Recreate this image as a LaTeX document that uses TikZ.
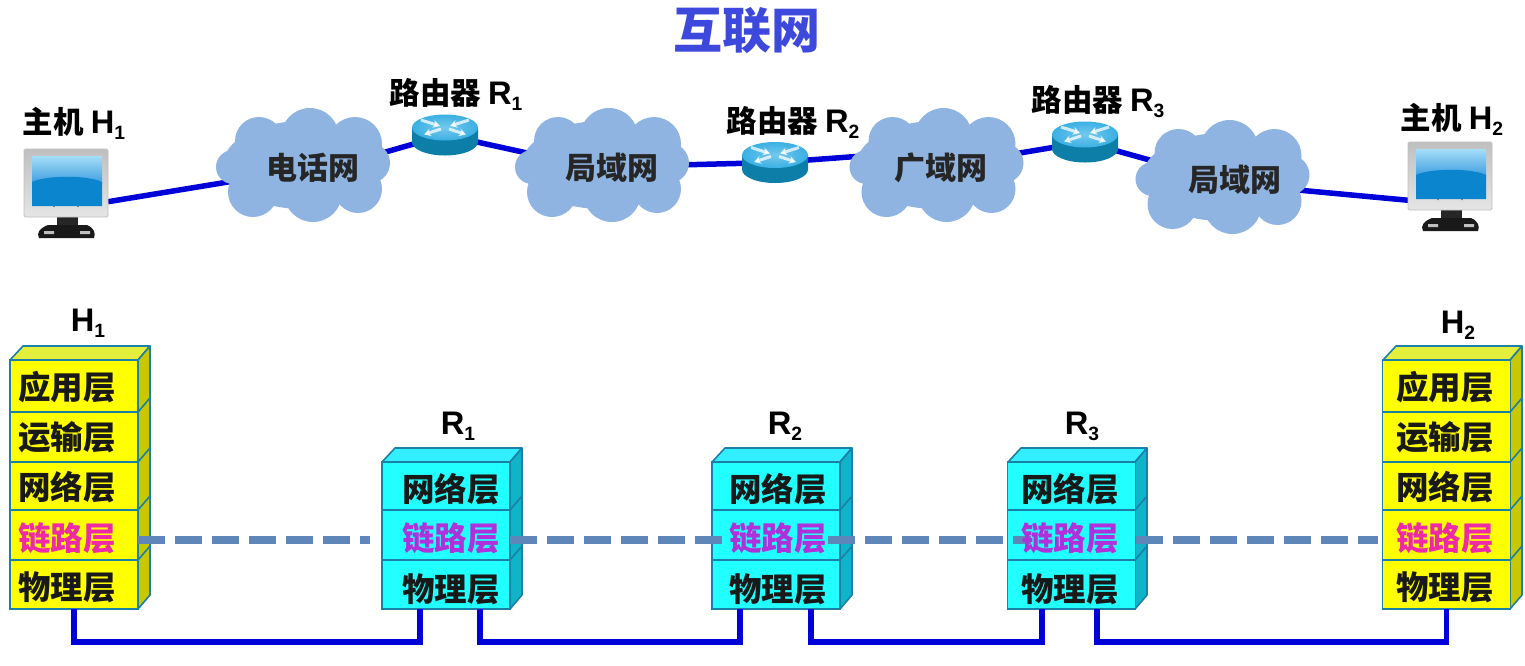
\documentclass[tikz,border=0pt]{standalone}
\usepackage{fontspec}
\setmainfont{Noto Sans CJK SC}
\newfontfamily\latinface{Liberation Sans}[Scale=1.07]
\usetikzlibrary{shapes.geometric,backgrounds,arrows.meta}
\definecolor{wireblue}{HTML}{0000D8}
\definecolor{dashblue}{HTML}{5F86B8}
\definecolor{cloudblue}{HTML}{8FB4E2}
\definecolor{titleblue}{HTML}{3D48DC}
\definecolor{edgeblue}{HTML}{1C7FA6}
\definecolor{yface}{HTML}{FFFF00}
\definecolor{ytop}{HTML}{E4EE3C}
\definecolor{yside}{HTML}{C8C800}
\definecolor{cface}{HTML}{22FFFF}
\definecolor{ctop}{HTML}{33EEFF}
\definecolor{cside}{HTML}{0FB4C8}
\definecolor{linkpink}{HTML}{EE2AA8}
\definecolor{linkviolet}{HTML}{B030DC}
\definecolor{routertopc}{HTML}{3AB0E4}
\definecolor{routerbody}{HTML}{0C7EA8}
\definecolor{screenhigh}{HTML}{A5DDF8}
\definecolor{screenmid}{HTML}{3F9FE0}
\definecolor{screenlow}{HTML}{0A85CE}
\newcommand\idx[1]{\raisebox{-6pt}{\latinface\fontsize{18}{18}\selectfont #1}}
\newcommand\lat[1]{{\latinface #1}}
\tikzset{
  title/.style={font=\fontsize{49}{52}\selectfont\bfseries, text=titleblue, inner sep=0pt},
  caption/.style={font=\fontsize{30.5}{34}\selectfont\bfseries, text=black, inner sep=0pt},
  cloudtext/.style={font=\fontsize{31}{34}\selectfont\bfseries, text=black!85, inner sep=0pt},
  layertext/.style={font=\fontsize{32.5}{35}\selectfont\bfseries, text=black!90, inner sep=0pt},
  layerrow/.style={rectangle, draw=edgeblue, line width=1.8pt, inner sep=0pt, outer sep=0pt, minimum height=#1},
  hostrow/.style={layerrow=#1, fill=yface, minimum width=128pt},
  routerrow/.style={layerrow=#1, fill=cface, minimum width=128pt},
  wire/.style={draw=wireblue, line width=5.5pt},
  link/.style={draw=wireblue, line width=5.5pt},
  peerdash/.style={draw=dashblue, line width=8pt, dash pattern=on 27pt off 10pt},
  cloudanchor/.style={ellipse, minimum width=150pt, minimum height=90pt, inner sep=0pt, outer sep=0pt},
  routerbox/.style={rectangle, minimum width=66pt, minimum height=41pt, inner sep=0pt, outer sep=0pt},
  screenbox/.style={rectangle, minimum width=84pt, minimum height=68pt, inner sep=0pt, outer sep=0pt, rounded corners=1.5pt, top color=black!25, bottom color=black!10, draw=black!25, line width=.8pt},
}
% cloud: #1 name, #2 centre x, #3 centre y, #4 label, #5 label offset
\newcommand\netcloud[5]{
  \begin{scope}[shift={(#2,#3)}]
    \fill[cloudblue] (7,-28) circle[radius=29] (-44,-24) circle[radius=24] (52,-21) circle[radius=27]
      (-70,2) circle[radius=17] (67,-2) circle[radius=20] (-50,27) circle[radius=25]
      (10,28) circle[radius=29] (55,24) circle[radius=24] (0,0) ellipse[x radius=80,y radius=44];
    \node[cloudanchor] (#1) at (0,0) {};
    \node[cloudtext] (#1label) at (#5,3) {#4};
  \end{scope}
}
% router: #1 name, #2 centre x, #3 centre y of the whole cylinder
\newcommand\netrouter[3]{
  \begin{scope}[shift={(#2,#3)}]
    \node[routerbox] (#1) at (0,0) {};
    \fill[routerbody] (-33,-7.5) -- (-33,7) arc[x radius=33,y radius=13.5,start angle=180,end angle=0] -- (33,-7.5) -- cycle;
    \shade[inner color=routertopc!70!white, outer color=routertopc] (0,-7.5) ellipse[x radius=33,y radius=13];
    \begin{scope}[white, line width=3pt, opacity=.75, -{Stealth[length=7pt,width=8pt]}]
      \draw (-24,-15) -- (-5,-9);
      \draw (24,-15) -- (5,-9);
      \draw (-4,-6) -- (-21,-0.5);
      \draw (4,-6) -- (21,-0.5);
    \end{scope}
  \end{scope}
}
% monitor: #1 name, #2 left edge, #3 top edge
\newcommand\nethost[3]{
  \begin{scope}[shift={(#2,#3)}]
    \fill[black!85] (33,66) -- (54,66) -- (54,76) -- (33,76) -- cycle;
    \fill[black!90] (24,76) -- (63,76) .. controls (70,79) and (72,84) .. (70,89) -- (15,89) .. controls (12,84) and (16,79) .. (24,76) -- cycle;
    \fill[white!75!black] (20,82) rectangle (30,85) (56,82) rectangle (66,85);
    \node[screenbox] (#1) at (42,34) {};
    \fill[black!55] (30,57.5) circle[radius=.8] (54,57.5) circle[radius=.8];
    \shade[top color=screenhigh, bottom color=screenmid] (8,7) rectangle (78,34);
    \fill[screenlow] (8,57) -- (8,33) .. controls (22,26) and (64,26) .. (78,33) -- (78,57) -- cycle;
  \end{scope}
}
% 3D faces behind a stack: #1 colour prefix, #2 left, #3 right, #4 top, #5 bottom, #6 divider heights
\newcommand\stackfaces[6]{
  \filldraw[#1top, draw=edgeblue, line width=1.6pt, line join=round] (#2,#4) -- (#2+13,#4-14) -- (#3+12,#4-14) -- (#3,#4) -- cycle;
  \filldraw[#1side, draw=edgeblue, line width=1.6pt, line join=round] (#3,#4) -- (#3+12,#4-14) -- (#3+12,#5-14) -- (#3,#5) -- cycle;
  \foreach \dy in {#6} { \draw[edgeblue, line width=1.6pt] (#3,\dy) -- (#3+12,\dy-14); }
}
\begin{document}
\begin{tikzpicture}[x=1pt,y=-1pt]
\useasboundingbox (0,0) rectangle (1525,665);

\node[title] (heading) at (747,31) {互联网};

% upper network row
\nethost{hostA}{24}{149}
\nethost{hostB}{1408}{142}
\netcloud{telnet}{303}{165}{电话网}{10}
\netcloud{lanA}{602}{165}{局域网}{10}
\netcloud{wan}{936.5}{165}{广域网}{4}
\netcloud{lanB}{1222.5}{177}{局域网}{12}
\netrouter{routerA}{445}{135}
\netrouter{routerB}{775}{162.5}
\netrouter{routerC}{1085}{142}

\begin{scope}[on background layer]
  \draw[link] (hostA.-24) -- (telnet.193);
  \draw[link] (telnet.8) -- (routerA.center);
  \draw[link] (routerA.center) -- (lanA.171);
  \draw[link] (lanA.east) -- (routerB.center);
  \draw[link] (routerB.center) -- (wan.173);
  \draw[link] (wan.8) -- (routerC.center);
  \draw[link] (routerC.center) -- (lanB.167);
  \draw[link] (lanB.-10) -- (hostB.210);
\end{scope}

\node[caption] (capHostA) at (74,123) {主机\hspace{7pt}\lat{H}\idx{1}};
\node[caption] (capRouterA) at (456,94) {路由器 \lat{R}\idx{1}};
\node[caption] (capRouterB) at (793,122) {路由器 \lat{R}\idx{2}};
\node[caption] (capRouterC) at (1098,102) {路由器 \lat{R}\idx{3}};
\node[caption] (capHostB) at (1452,119) {主机\hspace{7pt}\lat{H}\idx{2}};

% protocol stacks
\stackfaces{y}{10}{138}{360}{609}{412,462,510,560}
\stackfaces{c}{382}{510}{462}{609}{510,560}
\stackfaces{c}{712}{840}{462}{609}{510,560}
\stackfaces{c}{1008}{1135}{462}{609}{510,560}
\stackfaces{y}{1383}{1510}{360}{609}{412,462,510,560}

\foreach \who/\cx in {ha/74, hb/1446.5} {
  \node[hostrow=52pt] (\who app) at (\cx,386) {};
  \node[hostrow=50pt] (\who tra) at (\cx,437) {};
  \node[hostrow=48pt] (\who net) at (\cx,486) {};
  \node[hostrow=50pt] (\who lnk) at (\cx,535) {};
  \node[hostrow=49pt] (\who phy) at (\cx,584.5) {};
}
\foreach \who/\cx in {ra/446, rb/776, rc/1071.5} {
  \node[routerrow=48pt] (\who net) at (\cx,486) {};
  \node[routerrow=50pt] (\who lnk) at (\cx,535) {};
  \node[routerrow=49pt] (\who phy) at (\cx,584.5) {};
}

% peer link-layer dialogue
\draw[peerdash, shorten >=12pt] ([yshift=-5pt]halnk.east) -- ([yshift=-5pt]ralnk.west);
\draw[peerdash, shorten >=-18pt] ([yshift=-5pt]ralnk.east) -- ([yshift=-5pt]rblnk.west);
\draw[peerdash, shorten <=-12pt, shorten >=-23pt] ([yshift=-5pt]rblnk.east) -- ([yshift=-5pt]rclnk.west);
\draw[peerdash, shorten >=5pt] ([yshift=-5pt]rclnk.east) -- ([yshift=-5pt]hblnk.west);

% physical media
\draw[wire] (haphy.south) -- ++(0,33) -| ([xshift=-26pt]raphy.south);
\draw[wire] ([xshift=34pt]raphy.south) -- ++(0,33) -| ([xshift=-36pt]rbphy.south);
\draw[wire] ([xshift=35pt]rbphy.south) -- ++(0,33) -| ([xshift=-29.5pt]rcphy.south);
\draw[wire] ([xshift=25.5pt]rcphy.south) -- ++(0,33) -| (hbphy.south);

% layer names
\foreach \who/\cx in {ha/67, hb/1445} {
  \node[layertext] (\who apptext) at (\cx,387) {应用层};
  \node[layertext] (\who tratext) at (\cx,437) {运输层};
  \node[layertext] (\who nettext) at (\cx,487) {网络层};
  \node[layertext, text=linkpink] (\who lnktext) at (\cx,538) {链路层};
  \node[layertext] (\who phytext) at (\cx,587) {物理层};
}
\foreach \who/\cx in {ra/451, rb/778, rc/1070} {
  \node[layertext] (\who nettext) at (\cx,489) {网络层};
  \node[layertext, text=linkviolet] (\who lnktext) at (\cx,538) {链路层};
  \node[layertext] (\who phytext) at (\cx,589) {物理层};
}

% stack captions
\node[caption] (tagHa) at (88,323) {\lat{H}\idx{1}};
\node[caption] (tagRa) at (458,426) {\lat{R}\idx{1}};
\node[caption] (tagRb) at (785,426) {\lat{R}\idx{2}};
\node[caption] (tagRc) at (1082,426) {\lat{R}\idx{3}};
\node[caption] (tagHb) at (1458,325) {\lat{H}\idx{2}};
\end{tikzpicture}
\end{document}
